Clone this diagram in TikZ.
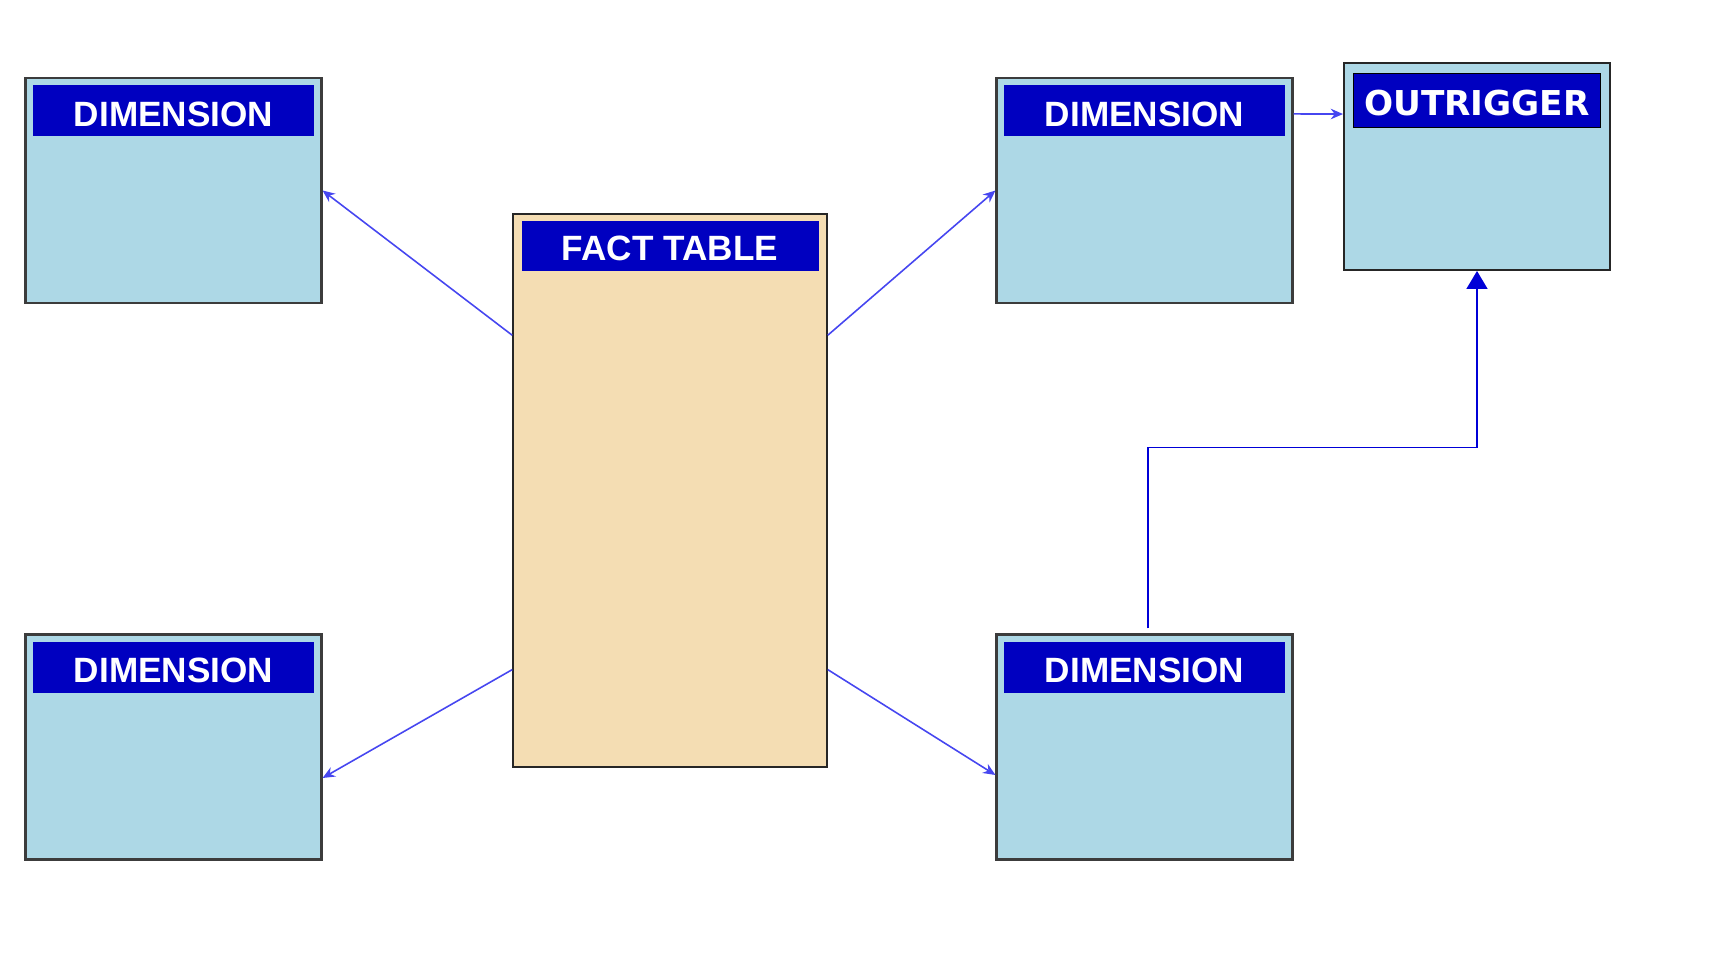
\documentclass[tikz,border=0pt]{standalone}
\usepackage{fontspec}
\setmainfont{Liberation Sans}
\newfontfamily\outfont{DejaVu Sans}
\usetikzlibrary{arrows.meta,positioning,calc}
\definecolor{dimfill}{RGB}{173,216,230}
\definecolor{factfill}{RGB}{244,221,179}
\definecolor{barblue}{RGB}{0,0,192}
\definecolor{linkblue}{RGB}{70,70,240}
\definecolor{elbowblue}{RGB}{0,0,215}
\definecolor{edgegray}{RGB}{60,60,60}

\begin{document}
\begin{tikzpicture}[
  dim/.style={draw=edgegray,line width=1.2pt,fill=dimfill,
              minimum width=5.92cm,minimum height=4.5cm,inner sep=0pt},
  fact/.style={draw=black!85,line width=0.9pt,fill=factfill,
               minimum width=6.28cm,minimum height=11.06cm,inner sep=0pt},
  outr/.style={draw=black!85,line width=1.1pt,fill=dimfill,
               minimum width=5.32cm,minimum height=4.14cm,inner sep=0pt},
  bar/.style={fill=barblue,text=white,inner sep=0pt,text height=0.62cm,
              minimum width=5.62cm,minimum height=1.02cm,
              font=\fontsize{20}{24}\selectfont\bfseries},
  link/.style={-{Stealth[length=7pt,width=6pt]},line width=0.9pt,color=linkblue},
  elbow/.style={-{Triangle[length=0.36cm,width=0.42cm]},line width=0.9pt,color=elbowblue}]
\useasboundingbox (0,0) rectangle (34.66,-19.6);
% tables
\node[fact](ft) at (13.4,-9.81)  {};
\node[dim](d1)  at (3.47,-3.81)  {};
\node[dim](d2)  at (22.89,-3.81) {};
\node[dim](d3)  at (3.47,-14.94) {};
\node[dim](d4)  at (22.89,-14.94){};
\node[outr](out) at (29.54,-3.33){};
% header bars
\node[bar,below=0.16cm of d1.north](t1) {DIMENSION};
\node[bar,below=0.16cm of d2.north](t2) {DIMENSION};
\node[bar,below=0.16cm of d3.north](t3) {DIMENSION};
\node[bar,below=0.16cm of d4.north](t4) {DIMENSION};
\node[bar,minimum width=5.94cm,minimum height=1.0cm,
      below=0.14cm of ft.north](tf) {FACT TABLE};
\node[bar,draw=black,line width=0.6pt,minimum width=4.94cm,minimum height=1.08cm,
      font=\outfont\fontsize{19.5}{23}\selectfont\bfseries,
      below=0.22cm of out.north](to) {OUTRIGGER};
% links
\draw[link]($(ft.north west)!0.22!(ft.south west)$)--(d1.east);
\draw[link]($(ft.north east)!0.22!(ft.south east)$)--(d2.west);
\draw[link]($(ft.north west)!0.823!(ft.south west)$)--($(d3.east)+(0,-0.62)$);
\draw[link]($(ft.north east)!0.823!(ft.south east)$)--($(d4.west)+(0,-0.56)$);
\draw[link]($(d2.north east)+(0,-0.74)$)--($(out.north west)+(0,-1.04)$);
\draw[elbow]($(d4.north)+(0.07,0.1)$)--++(0,3.62)-|(out.south);
\end{tikzpicture}
\end{document}
